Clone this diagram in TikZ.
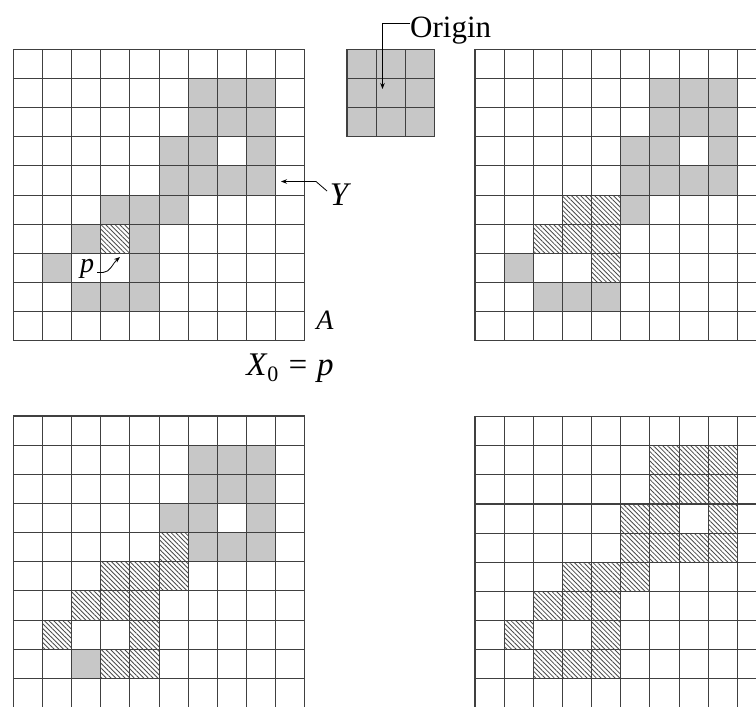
\documentclass[tikz,border=0pt]{standalone}
\usepackage{fontspec}
\setmainfont{Liberation Serif}
\newfontfamily\tms{Liberation Serif}
\usetikzlibrary{patterns.meta,arrows.meta}
\definecolor{cellgray}{gray}{0.78}
\definecolor{gridcol}{gray}{0.25}
\tikzset{
  gridline/.style={draw=gridcol,line width=1.1pt,line cap=rect},
  graycell/.style={fill=cellgray},
  hatchcell/.style={pattern={Lines[angle=-45,distance=3.3pt,line width=0.85pt]},pattern color=black!70},
  leader/.style={draw=black,line width=0.8pt},
  tipped/.style={-{Stealth[length=6pt,width=4.5pt]}},
  biglbl/.style={font=\tms\fontsize{33}{33}\selectfont\itshape,inner sep=0pt},
  midlbl/.style={font=\tms\fontsize{28}{28}\selectfont\itshape,inner sep=0pt},
}
\newcommand\cs{29.15}
\newcommand\mycells[4]{%
  \foreach \r/\c in {#4} \fill[#3] ({#1+\c*\cs},{#2+\r*\cs}) rectangle ++(\cs,\cs);
}
\newcommand\mygrid[4]{%
  \foreach \i in {0,...,#3} \draw[gridline] ({#1+\i*\cs},#2) -- ++(0,{#4*\cs});
  \foreach \j in {0,...,#4} \draw[gridline] (#1,{#2+\j*\cs}) -- ++({#3*\cs},0);
}
\begin{document}
\begin{tikzpicture}[x=1pt,y=-1pt]
\useasboundingbox (0,0) rectangle (756,707);
\fill[white] (0,0) rectangle (756,707);
\clip (0,0) rectangle (756,707);

% ---------- top left: set A, point p ----------
\mycells{13.3}{49.3}{graycell}{1/6,1/7,1/8,2/6,2/7,2/8,3/5,3/6,3/8,4/5,4/6,4/7,4/8,5/3,5/4,5/5,6/2,6/4,7/1,7/4,8/2,8/3,8/4}
\mycells{13.3}{49.3}{hatchcell}{6/3}
\mygrid{13.3}{49.3}{10}{10}

% ---------- structuring element ----------
\mycells{347}{49.3}{graycell}{0/0,0/1,0/2,1/0,1/1,1/2,2/0,2/1,2/2}
\mygrid{347}{49.3}{3}{3}

% ---------- top right: first step ----------
\mycells{475}{49.3}{graycell}{1/6,1/7,1/8,2/6,2/7,2/8,3/5,3/6,3/8,4/5,4/6,4/7,4/8,5/5,7/1,8/2,8/3,8/4}
\mycells{475}{49.3}{hatchcell}{5/3,5/4,6/2,6/3,6/4,7/4}
\mygrid{475}{49.3}{10}{10}

% ---------- bottom left: second step ----------
\mycells{13.3}{416}{graycell}{1/6,1/7,1/8,2/6,2/7,2/8,3/5,3/6,3/8,4/6,4/7,4/8,8/2}
\mycells{13.3}{416}{hatchcell}{4/5,5/3,5/4,5/5,6/2,6/3,6/4,7/1,7/4,8/3,8/4}
\mygrid{13.3}{416}{10}{10}

% ---------- bottom right: final result ----------
\mycells{475}{416.5}{hatchcell}{1/6,1/7,1/8,2/6,2/7,2/8,3/5,3/6,3/8,4/5,4/6,4/7,4/8,5/3,5/4,5/5,6/2,6/3,6/4,7/1,7/4,8/2,8/3,8/4}
\mygrid{475}{416.5}{10}{10}

% ---------- labels ----------
\node[font=\tms\fontsize{31}{31}\selectfont,inner sep=0pt,anchor=base west] (orig) at (410,37) {Origin};
\coordinate (origbend) at (382.5,23.5);
\coordinate (origtip) at (382.5,89);
\draw[leader,tipped] (orig.west |- origbend) -- (origbend) -- (origtip);

\node[biglbl] (ylbl) at (339,195) {Y};
\coordinate (ybend) at (316,181.5);
\coordinate (ytip) at (281,181.5);
\draw[leader,tipped] (327,191) -- (ybend) -- (ytip);

\node[midlbl] (plbl) at (87,269) {p};
\coordinate (pstart) at (97,272.5);
\coordinate (ptip) at (120,257);
\draw[leader,tipped] (pstart) -- ++(6,0) .. controls (110,272.5) and (113,263) .. (ptip);

\node[midlbl] (albl) at (325,320.5) {A};

\node[inner sep=0pt,anchor=base,font=\tms\fontsize{33}{33}\selectfont] (x0) at (290,375)
  {\itshape X\kern1pt\raisebox{-6pt}{\upshape\fontsize{22}{22}\selectfont 0}\ = p};
\end{tikzpicture}
\end{document}
